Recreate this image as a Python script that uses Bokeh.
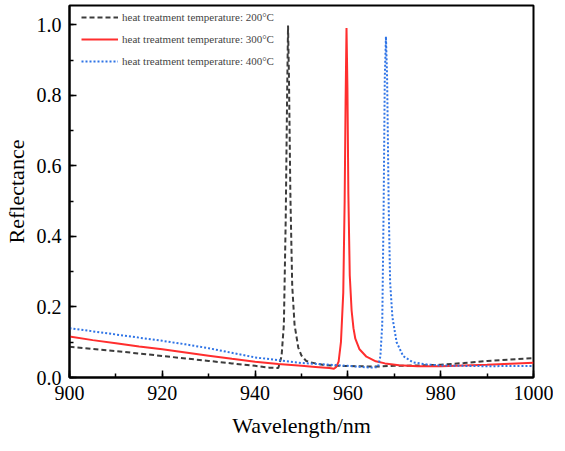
from bokeh.plotting import figure
from bokeh.models import SingleIntervalTicker, NumeralTickFormatter, Range1d, Legend, LegendItem
from bokeh.embed import file_html
from bokeh.resources import INLINE

# 200 °C (dashed gray)
wl_200 = [900, 905, 910, 915, 920, 925, 930, 935, 940, 943, 945, 945.7, 946.2, 946.6, 946.9, 947.1,
          947.3, 947.6, 948.0, 948.5, 949.3, 950, 951, 952, 953, 955, 958, 962, 966, 970, 975, 980,
          985, 990, 995, 1000]
r_200 = [0.087, 0.081, 0.075, 0.068, 0.061, 0.054, 0.047, 0.040, 0.033, 0.028, 0.027, 0.060, 0.150,
         0.450, 0.800, 0.998, 0.850, 0.520, 0.260, 0.150, 0.085, 0.062, 0.047, 0.043, 0.040, 0.035,
         0.033, 0.032, 0.031, 0.033, 0.034, 0.036, 0.041, 0.047, 0.051, 0.055]

# 300 °C (solid red)
wl_300 = [900, 905, 910, 915, 920, 925, 930, 935, 940, 945, 950, 953, 956, 957, 957.5, 958, 958.5,
          959.0, 959.3, 959.5, 959.7, 959.9, 960.1, 960.4, 960.8, 961.2, 961.6, 962.5, 964, 966, 968,
          971, 975, 980, 985, 990, 995, 1000]
r_300 = [0.116, 0.106, 0.097, 0.088, 0.080, 0.071, 0.062, 0.053, 0.045, 0.038, 0.033, 0.030, 0.027,
         0.025, 0.030, 0.045, 0.100, 0.240, 0.500, 0.780, 0.991, 0.820, 0.520, 0.290, 0.190, 0.140,
         0.110, 0.080, 0.059, 0.046, 0.040, 0.035, 0.032, 0.032, 0.034, 0.036, 0.039, 0.042]

# 400 °C (dotted blue)
wl_400 = [900, 905, 910, 915, 920, 925, 930, 935, 940, 945, 950, 955, 960, 963, 965, 966, 966.5,
          967.0, 967.4, 967.7, 967.95, 968.2, 968.45, 968.8, 969.1, 969.6, 970.5, 971.9, 974, 977,
          980, 990, 1000]
r_400 = [0.140, 0.131, 0.122, 0.113, 0.104, 0.094, 0.083, 0.070, 0.057, 0.049, 0.041, 0.037, 0.033,
         0.030, 0.028, 0.029, 0.030, 0.060, 0.150, 0.480, 0.850, 0.967, 0.850, 0.480, 0.270, 0.170,
         0.100, 0.061, 0.043, 0.037, 0.034, 0.032, 0.033]

labels = ["heat treatment temperature: 200\u00b0C",
          "heat treatment temperature: 300\u00b0C",
          "heat treatment temperature: 400\u00b0C"]

FONT = "Liberation Serif"

p = figure(frame_width=464, frame_height=372, output_backend="svg", toolbar_location=None,
           x_range=Range1d(900, 1000), y_range=Range1d(0, 1.055),
           min_border_left=65, min_border_right=20, min_border_top=5, min_border_bottom=10)

p.grid.visible = False
p.outline_line_color = "black"
p.outline_line_width = 2
p.background_fill_color = "white"
p.border_fill_color = "white"

l1 = p.line(wl_200, r_200, line_color="#3c3c3c", line_width=2, line_dash="5 3")
l2 = p.line(wl_300, r_300, line_color="#ff2e2e", line_width=2)
l3 = p.line(wl_400, r_400, line_color="#2f74e6", line_width=2, line_dash="2 2")

p.xaxis.ticker = SingleIntervalTicker(interval=20, num_minor_ticks=2)
p.yaxis.ticker = SingleIntervalTicker(interval=0.2, num_minor_ticks=2)
p.yaxis.formatter = NumeralTickFormatter(format="0.0")

for ax in (p.xaxis[0], p.yaxis[0]):
    ax.major_tick_in = 7
    ax.major_tick_out = 0
    ax.minor_tick_in = 4
    ax.minor_tick_out = 0
    ax.axis_line_width = 2
    ax.major_tick_line_width = 1.5
    ax.minor_tick_line_width = 1.5
    ax.major_label_text_font = FONT
    ax.major_label_text_font_size = "20px"
    ax.major_label_text_color = "black"
    ax.axis_label_text_font = FONT
    ax.axis_label_text_font_size = "22px"
    ax.axis_label_text_font_style = "normal"
    ax.axis_label_text_color = "black"

p.xaxis.axis_label = "Wavelength/nm"
p.yaxis.axis_label = "Reflectance"
p.xaxis.major_label_standoff = 8
p.yaxis.major_label_standoff = 8
p.xaxis.axis_label_standoff = 10
p.yaxis.axis_label_standoff = 5

legend = Legend(items=[LegendItem(label=labels[0], renderers=[l1]),
                       LegendItem(label=labels[1], renderers=[l2]),
                       LegendItem(label=labels[2], renderers=[l3])],
                location=(12, 308), border_line_color=None, background_fill_alpha=0,
                margin=0, padding=0, spacing=6, glyph_width=37, glyph_height=16,
                label_height=16, label_standoff=4,
                label_text_font=FONT, label_text_font_size="11px")
p.add_layout(legend)

open("out.html", "w").write(file_html(p, INLINE))
